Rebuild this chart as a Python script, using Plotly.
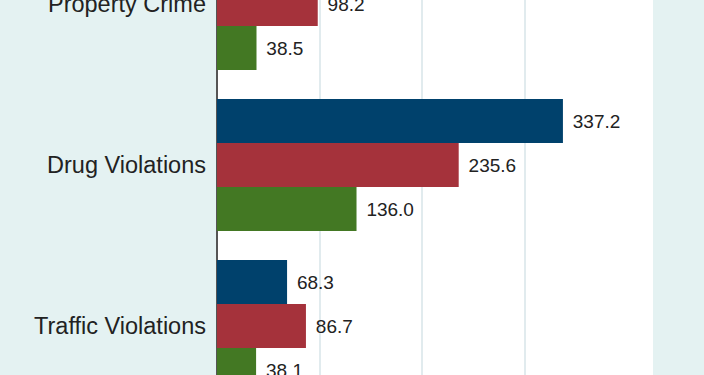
import plotly.graph_objects as go

categories = ["Property Crime", "Drug Violations", "Traffic Violations"]
series_names = ["Series A", "Series B", "Series C"]
values_a = [None, 337.2, 68.3]
values_b = [98.2, 235.6, 86.7]
values_c = [38.5, 136.0, 38.1]
grid_ticks = [0, 100, 200, 300]
colors = ["#00416c", "#a5323b", "#437823"]

fig = go.Figure()
for name, vals, col in zip(series_names, [values_a, values_b, values_c], colors):
    fig.add_trace(go.Bar(
        y=categories, x=vals, name=name, orientation="h",
        marker=dict(color=col, line=dict(width=0)),
        text=[None if v is None else f"\u00a0\u200a{v:.1f}" for v in vals],
        textposition="outside", cliponaxis=False,
        textfont=dict(size=19, color="#222222", family="Liberation Sans, Arial, sans-serif"),
    ))

fig.update_layout(
    width=704, height=375,
    margin=dict(l=217, r=51, t=0, b=0, autoexpand=False),
    paper_bgcolor="#e4f2f2", plot_bgcolor="#ffffff",
    barmode="group", bargap=0.18, bargroupgap=0,
    showlegend=False,
    font=dict(family="Liberation Sans, Arial, sans-serif", color="#222222"),
)
fig.update_xaxes(range=[0, 425], tickvals=grid_ticks, showgrid=True, gridcolor="#e1ebee", gridwidth=1.5,
                 zeroline=True, zerolinecolor="#555555", zerolinewidth=1.5,
                 showticklabels=False, showline=False, automargin=False)
fig.update_yaxes(type="category", range=[2.304, -0.025], tickfont=dict(size=23.5, color="#222222"),
                 ticklabelstandoff=10, showgrid=False, zeroline=False, showline=False,
                 automargin=False)

fig.write_html("out.html", config={"displayModeBar": False},
               post_script="document.body.style.margin='0';document.body.style.overflow='hidden';")
